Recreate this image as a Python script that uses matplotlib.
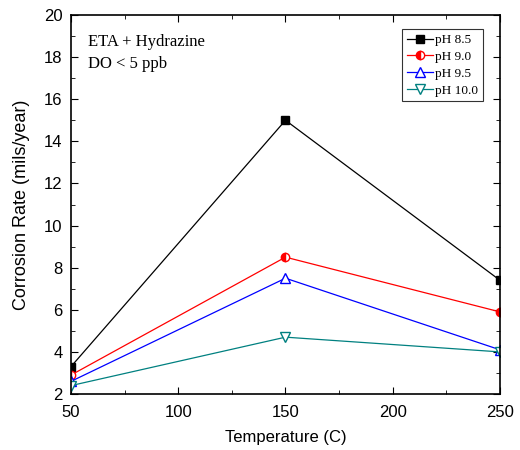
import matplotlib
matplotlib.use("Agg")
import matplotlib.pyplot as plt
from matplotlib.ticker import MultipleLocator

# temperatures et vitesses de corrosion
temperature = [50, 150, 250]
ph_85 = [3.3, 15.0, 7.4]
ph_90 = [2.9, 8.5, 5.9]
ph_95 = [2.6, 7.5, 4.1]
ph_100 = [2.4, 4.7, 4.0]

fig = plt.figure(figsize=(5.2, 4.5), dpi=100)
ax = fig.add_axes([0.1365, 0.1244, 0.825, 0.8423])

ax.plot(temperature, ph_85, "k-", marker="s", ms=5.5, lw=0.9, label="pH 8.5")
ax.plot(temperature, ph_90, "r-", marker="o", ms=6, lw=0.9, fillstyle="left",
        markerfacecoloralt="white", label="pH 9.0")
ax.plot(temperature, ph_95, "b-", marker="^", ms=6.5, lw=0.9, mfc="white", label="pH 9.5")
ax.plot(temperature, ph_100, "-", color="#008080", marker="v", ms=6.5, lw=0.9, mfc="white",
        label="pH 10.0")

ax.set_xlim(50, 250)
ax.set_ylim(2, 20)
ax.xaxis.set_major_locator(MultipleLocator(50))
ax.xaxis.set_minor_locator(MultipleLocator(25))
ax.yaxis.set_major_locator(MultipleLocator(2))
ax.yaxis.set_minor_locator(MultipleLocator(1))
ax.tick_params(which="both", direction="in", top=True, right=True, labelsize=12)
ax.tick_params(axis="x", pad=8)
ax.tick_params(axis="y", pad=6)
ax.tick_params(which="major", length=5)
ax.tick_params(which="minor", length=3)
for lab in ax.get_xticklabels() + ax.get_yticklabels():
    lab.set_family("Liberation Sans")
for s in ax.spines.values():
    s.set_linewidth(1.2)

ax.set_xlabel("Temperature (C)", family="Liberation Sans", fontsize=12, labelpad=7)
ax.set_ylabel("Corrosion Rate (mils/year)", family="Liberation Sans", fontsize=13, labelpad=10)

ax.text(0.04, 0.95, "ETA + Hydrazine\nDO < 5 ppb", transform=ax.transAxes, va="top",
        ha="left", family="Liberation Serif", fontsize=12, linespacing=1.5)

leg = ax.legend(loc="upper right", bbox_to_anchor=(0.960, 0.962), borderaxespad=0,
                prop={"family": "Liberation Serif", "size": 9.5},
                frameon=True, fancybox=False, edgecolor="black", handlelength=2.0,
                borderpad=0.35, labelspacing=0.35, handletextpad=0.15)
leg.get_frame().set_linewidth(0.8)

fig.savefig("out.png", dpi=100)
